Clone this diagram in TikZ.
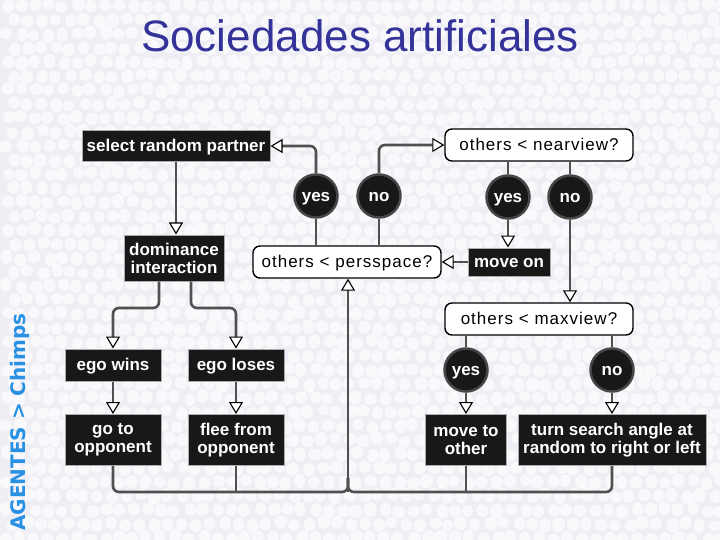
\documentclass[tikz,border=0pt]{standalone}
\usepackage{fontspec}
\setmainfont{Liberation Sans}
\newfontfamily\dvfont{DejaVu Sans}
\newfontfamily\wfont[LetterSpace=6]{Liberation Sans}
\usetikzlibrary{arrows.meta}
\definecolor{bg}{RGB}{239,238,245}
\definecolor{cell}{RGB}{249,249,251}
\definecolor{titleblue}{RGB}{51,51,153}
\definecolor{sideblue}{RGB}{40,145,228}
\definecolor{boxblk}{RGB}{24,24,24}
\definecolor{linegray}{RGB}{80,80,80}
\begin{document}
\begin{tikzpicture}[x=1pt,y=-1pt,
 blk/.style={fill=boxblk, draw=gray!65, line width=1pt, text=white, font=\fontsize{17}{18}\selectfont\bfseries, inner sep=0pt, align=center},
 one/.style={text height=12pt, text depth=1.5pt},
 wht/.style={fill=white, draw=black, line width=1.4pt, rounded corners=7pt, font=\fontsize{17}{18}\wfont, inner sep=0pt, minimum width=188pt, minimum height=32pt, text height=12pt, text depth=1.5pt},
 circ/.style={circle, fill=boxblk, draw=gray!55!black, line width=2.5pt, text=white, font=\fontsize{17}{18}\selectfont\bfseries, minimum size=43pt, inner sep=0pt, text height=11pt, text depth=0pt},
 conn/.style={draw=linegray, line width=2.6pt, rounded corners=6pt},
 arr/.style={conn, -{Triangle[open, fill=white, color=black, length=12pt, width=14pt, line width=1.1pt]}},
]
\useasboundingbox (0,0) rectangle (720,540);
\fill[bg] (0,0) rectangle (720,540);
\pgfmathsetseed{11}
\foreach \i in {0,...,51}{
  \foreach \j in {0,...,39}{
    \pgfmathsetmacro{\cx}{\i*14+7+rand*2+mod(\j,2)*7}
    \pgfmathsetmacro{\cy}{\j*14+6+rand*2}
    \pgfmathsetmacro{\rx}{5.5+rnd*1.2}
    \pgfmathsetmacro{\ry}{5.5+rnd*1.8}
    \fill[cell] (\cx,\cy) ellipse [x radius=\rx, y radius=\ry];
  }
}

\node[font=\fontsize{44}{48}\selectfont, text=titleblue, anchor=base] (title) at (360,52) {Sociedades artificiales};
\node[rotate=90, font=\fontsize{20}{22}\dvfont\bfseries, text=sideblue, anchor=base] (side) at (25,422) {AGENTES > Chimps};

\coordinate (dl) at (159,308);
\coordinate (dr) at (191,308);
\coordinate (bj) at (348,492);
\coordinate (bj2) at (348,478);

\node[blk, one, minimum width=188pt, minimum height=31pt] (srp) at (176,146) {select random partner};
\node[wht] (nv) at (539,145) {others < nearview?};
\node[circ] (y1) at (316,196) {yes};
\node[circ] (n1) at (379,196) {no};
\node[circ] (y2) at (508,197) {yes};
\node[circ] (n2) at (570,197) {no};
\node[blk, minimum width=100pt, minimum height=46pt] (dom) at (174,258) {dominance\\interaction};
\node[wht] (ps) at (347,262) {others < persspace?};
\node[blk, one, minimum width=82pt, minimum height=28pt] (mo) at (509,262) {move on};
\node[wht] (mv) at (539,319) {others < maxview?};
\node[blk, one, minimum width=96pt, minimum height=32pt] (ew) at (113,365) {ego wins};
\node[blk, one, minimum width=96pt, minimum height=32pt] (el) at (236,365) {ego loses};
\node[blk, minimum width=96pt, minimum height=51pt] (go) at (113,440) {go to\\opponent};
\node[blk, minimum width=96pt, minimum height=51pt] (fl) at (236,440) {flee from\\opponent};
\node[circ] (y3) at (466,370) {yes};
\node[circ] (n3) at (612,370) {no};
\node[blk, minimum width=81pt, minimum height=51pt] (mt) at (466,440) {move to\\other};
\node[blk, minimum width=188pt, minimum height=51pt] (ts) at (612,440) {turn search angle at\\random to right or left};

\draw[conn] (ps.north -| y1) -- (y1);
\draw[arr] (y1) |- (srp.east);
\draw[conn] (ps.north -| n1) -- (n1);
\draw[arr] (n1) |- (nv.west);
\draw[conn] (nv.south -| y2) -- (y2);
\draw[arr] (y2) -- (y2 |- mo.north);
\draw[conn] (nv.south -| n2) -- (n2);
\draw[arr] (n2) -- (n2 |- mv.north);
\draw[arr] (mo) -- (ps);
\draw[arr] (srp.south) -- (srp.south |- dom.north);
\draw[arr] (dom.south -| dl) -- (dl) -| (ew.north);
\draw[arr] (dom.south -| dr) -- (dr) -| (el.north);
\draw[arr] (ew) -- (go);
\draw[arr] (el) -- (fl);
\draw[conn] (mv.south -| y3) -- (y3);
\draw[conn] (mv.south -| n3) -- (n3);
\draw[arr] (y3) -- (mt);
\draw[arr] (n3) -- (ts);
\draw[conn] (go.south) |- (bj) -- (bj2);
\draw[conn] (ts.south) |- (bj) -- (bj2);
\draw[conn] (fl.south) -- (fl.south |- bj);
\draw[conn] (mt.south) -- (mt.south |- bj);
\draw[arr] (bj) -- (bj |- ps.south);
\end{tikzpicture}
\end{document}
